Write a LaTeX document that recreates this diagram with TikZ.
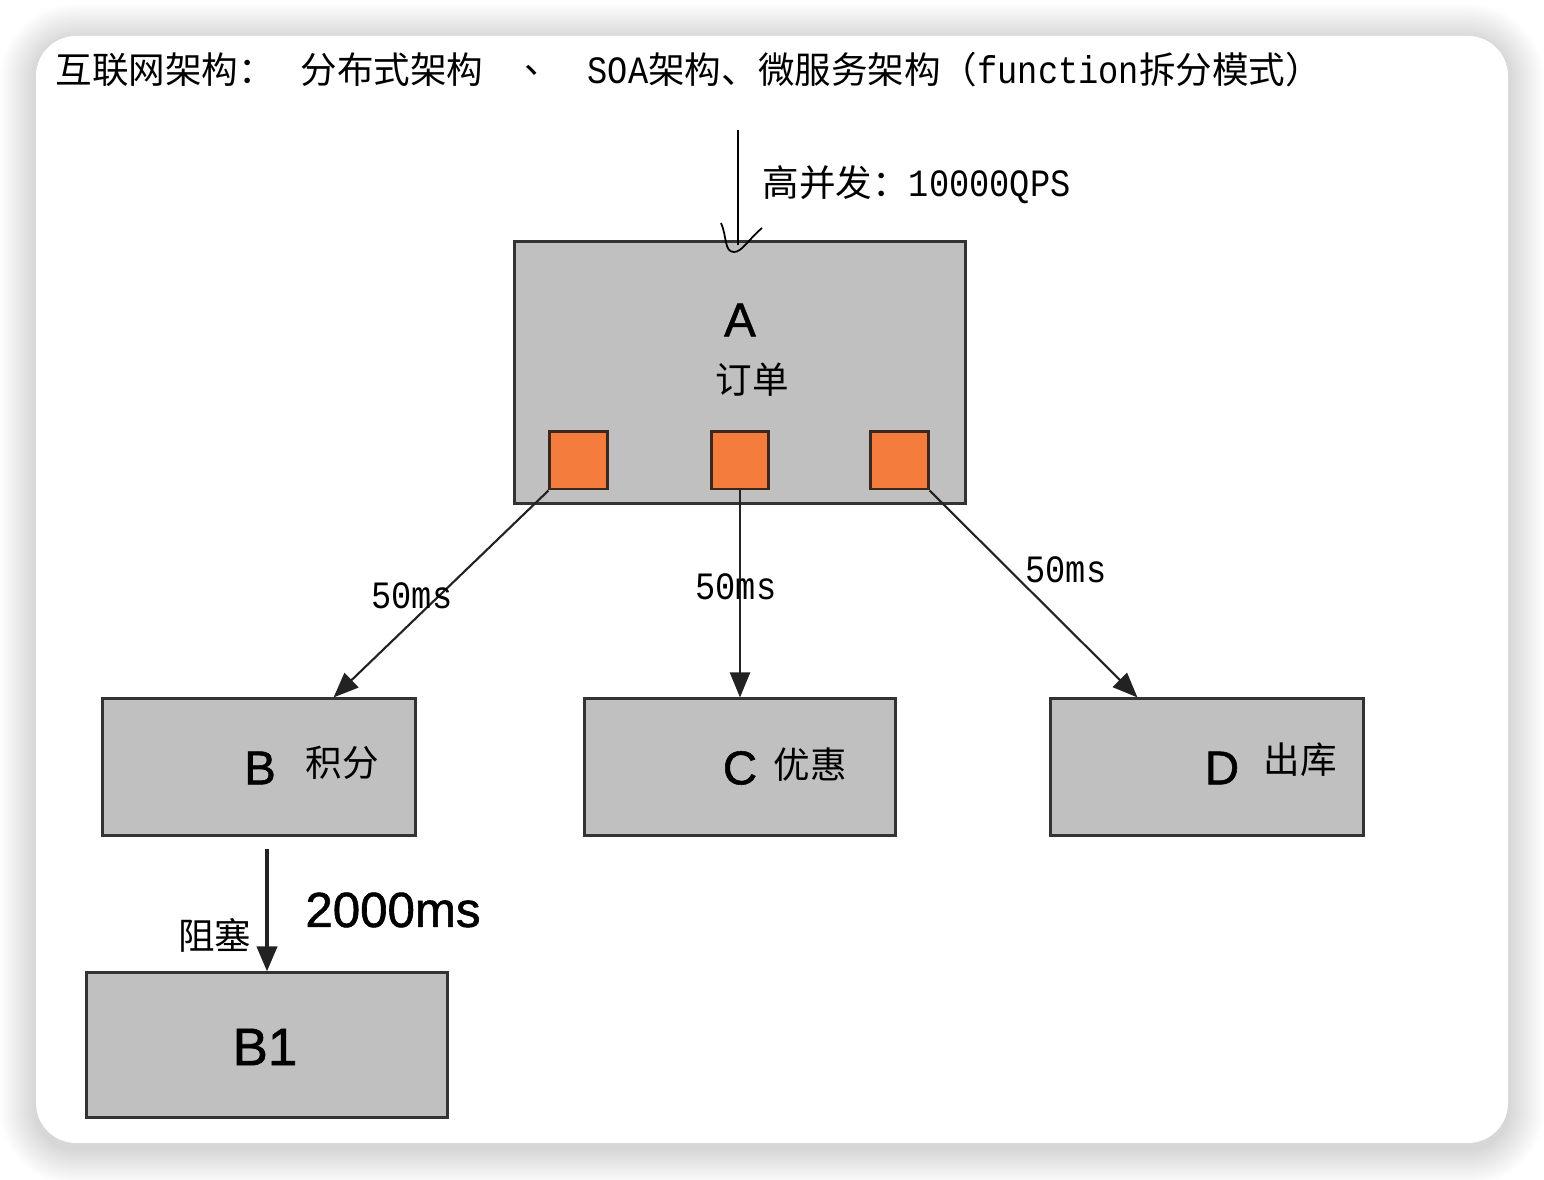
\documentclass[tikz,border=0pt]{standalone}
\usepackage{fontspec}
\setmainfont{Liberation Serif}
\newfontfamily\cjk{Noto Sans CJK SC}
\newfontfamily\hv{Liberation Sans}[FakeBold=1.2]
\newfontfamily\sun{Liberation Mono}[FakeStretch=0.87]
\newcommand{\lat}[1]{{\sun\fontsize{11pt}{12pt}\selectfont #1}}
\usetikzlibrary{positioning, arrows.meta, calc}
\definecolor{BoxGray}{RGB}{192, 192, 192}
\definecolor{EdgeGray}{RGB}{51, 51, 51}
\definecolor{LineGray}{RGB}{34, 34, 34}
\definecolor{PortOrange}{RGB}{244, 124, 60}
\definecolor{PortEdge}{RGB}{58, 40, 30}

\begin{document}
\begin{tikzpicture}[x=0.01cm, y=-0.01cm,
    box/.style={draw=EdgeGray, fill=BoxGray, line width=0.85pt, inner sep=0pt},
    port/.style={draw=PortEdge, fill=PortOrange, line width=0.85pt, inner sep=0pt,
      minimum width=0.57cm, minimum height=0.57cm},
    letter/.style={font=\hv\fontsize{13.5pt}{14pt}\selectfont, inner sep=0pt},
    hanzi/.style={font=\cjk\fontsize{10.4pt}{12pt}\selectfont, inner sep=0pt},
    ms/.style={font=\sun\fontsize{11pt}{12pt}\selectfont, inner sep=0pt},
    call/.style={draw=LineGray, line width=0.6pt, -{Triangle[length=0.25cm, width=0.2cm]}}]
    \useasboundingbox (0,0) rectangle (1544,1180);
    \fill[white] (0,0) rectangle (1544,1180);

    % Card with soft shadow
    \foreach \i in {1,...,20} {
      \pgfmathsetmacro\rr{0.4+0.018*\i}
      \fill[black, opacity=0.009, rounded corners=\rr cm]
        (36-1.8*\i,40-1.8*\i) rectangle (1508+1.8*\i,1149+1.8*\i);
    }
    \fill[white, rounded corners=0.4cm] (36,36) rectangle (1508,1143);

    % Title
    \node[hanzi, anchor=west] (t1) at (55,70) {互联网架构：};
    \node[hanzi, anchor=west] (t2) at (300,70) {分布式架构};
    \node[hanzi, anchor=west] (t3) at (524,70) {、};
    \node[hanzi, anchor=west] (t4) at (587,70)
      {\lat{SOA}架构、微服务架构（\lat{function}拆分模式）};

    % Boxes
    \node[box, minimum width=4.5cm, minimum height=2.61cm] (A) at (740,372.5) {};
    \node[box, minimum width=3.12cm, minimum height=1.36cm] (B) at (259,767) {};
    \node[box, minimum width=3.10cm, minimum height=1.36cm] (C) at (740,767) {};
    \node[box, minimum width=3.12cm, minimum height=1.36cm] (D) at (1207,767) {};
    \node[box, minimum width=3.60cm, minimum height=1.44cm] (B1) at (267,1045) {};

    % Ports of A
    \node[port] (p1) at (578.5,460.5) {};
    \node[port] (p2) at (740,460.5) {};
    \node[port] (p3) at (899.5,460.5) {};

    % Box texts
    \node[letter] (Aname) at (740,320) {A};
    \node[hanzi] (Atext) at (752,380) {订单};
    \node[letter] (Bname) at (260,768) {B};
    \node[hanzi] (Btext) at (342,763) {积分};
    \node[letter] (Cname) at (740,768) {C};
    \node[hanzi] (Ctext) at (810,765) {优惠};
    \node[letter] (Dname) at (1222,768) {D};
    \node[hanzi] (Dtext) at (1300,760) {出库};
    \node[letter, font=\hv\fontsize{15pt}{16pt}\selectfont] (B1name) at (265,1047) {B1};

    % Incoming requests
    \coordinate (qin) at (738,130);
    \draw[line width=0.5pt] (qin) -- ([yshift=-0.05cm]A.north -| qin);
    \draw[line width=0.5pt] (721,223) .. controls (727,236) and (724,252) .. (734,252)
      .. controls (742,252) and (748,240) .. (762,228);
    \node[hanzi, anchor=west] (qps) at (762,185) {高并发：\lat{10000QPS}};

    % Calls
    \draw[call] (p1.south west) -- (B.43);
    \draw[call] (p2.south) -- (C.north);
    \draw[call] (p3.south east) -- (D.135);
    \node[ms] (msB) at (412,596) {50ms};
    \node[ms] (msC) at (736,587) {50ms};
    \node[ms] (msD) at (1066,570) {50ms};

    % Blocking call
    \draw[call, line width=1.1pt] ([yshift=-0.12cm]B.south -| B1.north) -- (B1.north);
    \node[letter, font=\hv\fontsize{14pt}{15pt}\selectfont] (slow) at (393,910) {2000ms};
    \node[hanzi] (block) at (215,935) {阻塞};
  \end{tikzpicture}
\end{document}
